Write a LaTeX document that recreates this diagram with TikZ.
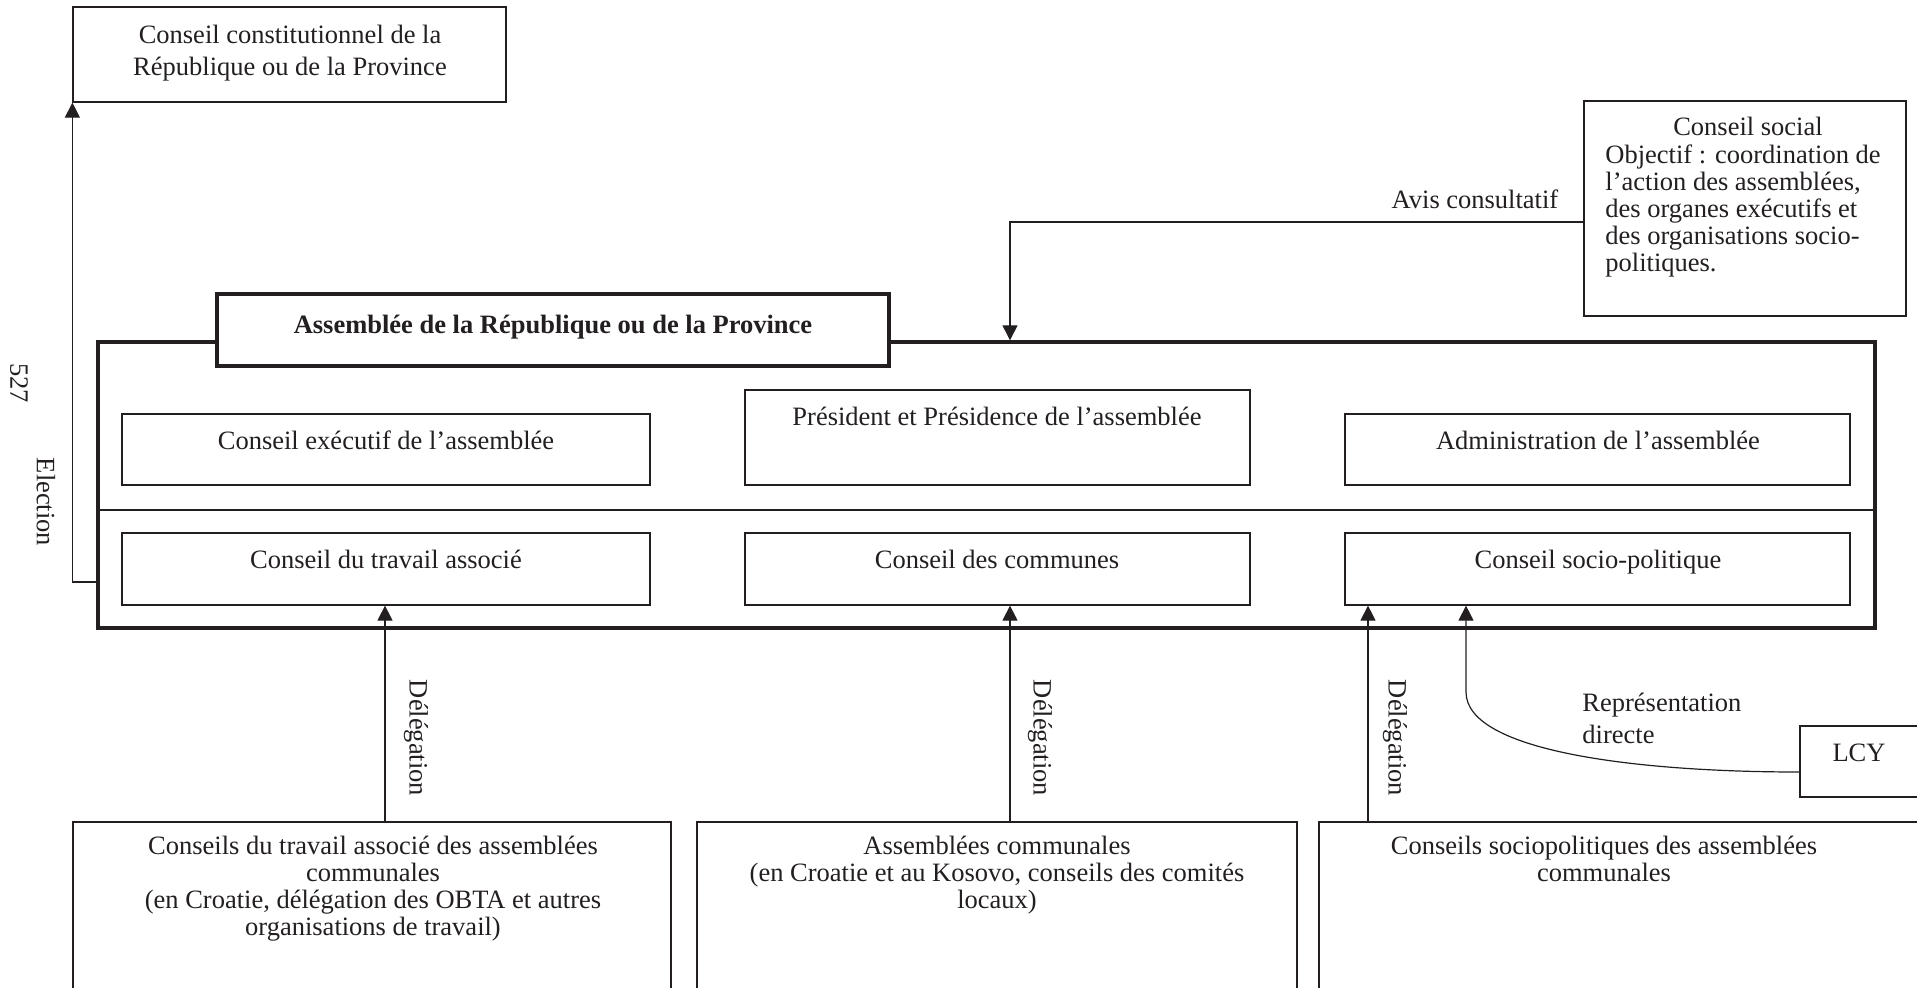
\documentclass[tikz,border=0pt]{standalone}
\usepackage{fontspec}
\setmainfont{Liberation Serif}
\usetikzlibrary{arrows.meta,fit}
\definecolor{ink}{HTML}{231F20}
\begin{document}
\begin{tikzpicture}[x=0.5pt,y=-0.5pt,
  box/.style={draw=ink, line width=0.6pt, inner sep=0pt},
  thickbox/.style={draw=ink, line width=1.7pt, inner sep=0pt},
  txt/.style={text=ink, inner sep=0pt, font=\fontsize{13.25}{13.5}\selectfont},
  txtwide/.style={text=ink, inner sep=0pt, font=\fontsize{13.25}{16}\selectfont},
  arr/.style={draw=ink, line width=0.6pt, -{Triangle[width=7.5pt,length=7.5pt]}},
  lin/.style={draw=ink, line width=0.6pt}]
\useasboundingbox (0,0) rectangle (1917,987);
\clip (0,0) rectangle (1917,987);
% boxes
\node[box, fit={(73,7) (506,102)}] (cc) {};
\node[box, fit={(1584,101) (1906,316)}] (soc) {};
\node[thickbox, fit={(98,342) (1875,628)}] (main) {};
\draw[lin] (main.west |- 0,510) -- (main.east |- 0,510);
\node[thickbox, fill=white, fit={(217,294) (889,366)}] (title) {};
\node[box, fit={(122,414) (650,485)}] (exe) {};
\node[box, fit={(745,390) (1250,485)}] (pres) {};
\node[box, fit={(1345,414) (1850,485)}] (adm) {};
\node[box, fit={(122,533) (650,605)}] (cta) {};
\node[box, fit={(745,533) (1250,605)}] (ccm) {};
\node[box, fit={(1345,533) (1850,605)}] (csp) {};
\node[box, fit={(73,822) (671,1000)}] (bl) {};
\node[box, fit={(697,822) (1297,1000)}] (bm) {};
\node[box, fit={(1319,822) (1960,1000)}] (br) {};
\node[box, fit={(1800,726) (1960,797)}] (lcy) {};
% texts
\node[txtwide, anchor=north, align=center] (cct) at (290,25) {Conseil constitutionnel de la\\République ou de la Province};
\node[txt, anchor=base, font=\bfseries\fontsize{13.25}{13.5}\selectfont] (titlet) at (553,333) {Assemblée de la République ou de la Province};
\node[txt, anchor=base] (exet) at (386,449) {Conseil exécutif de l’assemblée};
\node[txt, anchor=base] (prest) at (997,425) {Président et Présidence de l’assemblée};
\node[txt, anchor=base] (admt) at (1598,449) {Administration de l’assemblée};
\node[txt, anchor=base] (ctat) at (386,568) {Conseil du travail associé};
\node[txt, anchor=base] (ccmt) at (997,568) {Conseil des communes};
\node[txt, anchor=base] (cspt) at (1598,568) {Conseil socio-politique};
\node[txt, anchor=base] (avis) at (1475,208) {Avis consultatif};
\node[txt, anchor=base] (soct1) at (1748,135) {Conseil social};
\node[txt, anchor=north west, align=left] (soct2) at (1605,144) {Objectif~: coordination de\\l’action des assemblées,\\des organes exécutifs et\\des organisations socio-\\politiques.};
\node[txtwide, anchor=north west, align=left] (rep) at (1582,693) {Représentation\\directe};
\node[txt, anchor=base] (lcyt) at (1859,761) {LCY};
\node[txt, anchor=north, align=center] (blt) at (373,836) {Conseils du travail associé des assemblées\\communales\\(en Croatie, délégation des OBTA et autres\\organisations de travail)};
\node[txt, anchor=north, align=center] (bmt) at (997,836) {Assemblées communales\\(en Croatie et au Kosovo, conseils des comités\\locaux)};
\node[txt, anchor=north, align=center] (brt) at (1604,836) {Conseils sociopolitiques des assemblées\\communales};
\node[txt, rotate=-90] (elect) at (46,502) {Election};
\node[txt, rotate=-90] (page) at (19,383) {527};
\node[txt, rotate=-90] (d1) at (416,738) {Délégation};
\node[txt, rotate=-90] (d2) at (1040,738) {Délégation};
\node[txt, rotate=-90] (d3) at (1395,738) {Délégation};
% connectors
\draw[arr] (main.west |- 0,582) -| (cc.south west);
\draw[arr] (soc.west |- 0,222) -| (1010,0 |- main.north);
\draw[arr] (385,0 |- bl.north) -- (385,0 |- cta.south);
\draw[arr] (1010,0 |- bm.north) -- (1010,0 |- ccm.south);
\draw[arr] (1368,0 |- br.north) -- (1368,0 |- csp.south);
\draw[arr] (lcy.west |- 0,772) .. controls (1640,772) and (1466,752) .. (1466,692) -- (1466,0 |- csp.south);
\end{tikzpicture}
\end{document}
